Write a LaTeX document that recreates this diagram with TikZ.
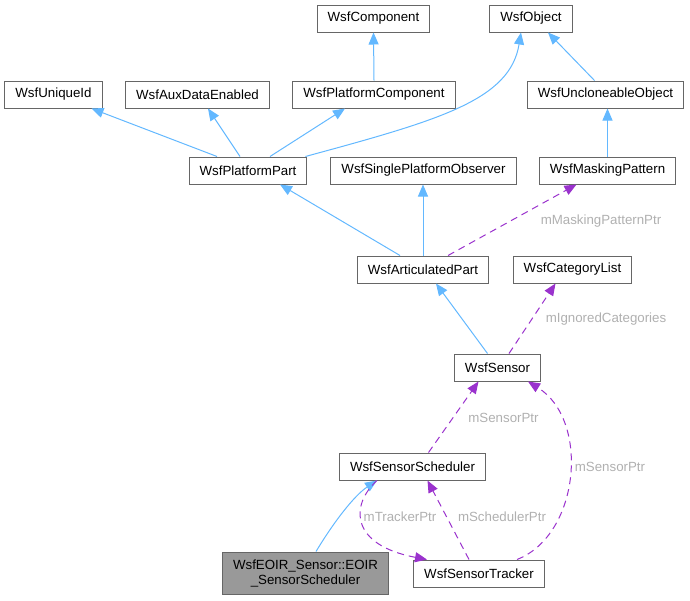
\documentclass[tikz,border=0pt]{standalone}
\usepackage{fontspec}
\setmainfont{Liberation Sans}
\usetikzlibrary{positioning,calc,arrows.meta}
\definecolor{edgeblue}{HTML}{63B8FF}
\definecolor{edgepurple}{HTML}{9A32CD}
\definecolor{boxline}{HTML}{666666}
\definecolor{boxgray}{HTML}{999999}
\definecolor{lblgray}{HTML}{B0B0B0}

\begin{document}
\begin{tikzpicture}[x=1pt, y=-1pt,
		cls/.style={draw=boxline, fill=white, line width=1pt, minimum height=27pt, inner xsep=10.5pt, font=\fontsize{13.3}{15}\selectfont},
		inh/.style={draw=edgeblue, line width=1pt, -{Triangle[length=12pt, width=10pt]}},
		assoc/.style={draw=edgepurple, line width=1pt, dash pattern=on 7pt off 5pt, -{Triangle[length=12pt, width=10pt]}},
		lbl/.style={text=lblgray, inner sep=0pt, font=\fontsize{13.3}{15}\selectfont}]
		\useasboundingbox (0,0) rectangle (690,600);
		% classes
		\node[cls] (Comp) at (373.5,18.5) {WsfComponent};
		\node[cls] (Obj) at (531,18.5) {WsfObject};
		\node[cls] (UId) at (53.5,94.5) {WsfUniqueId};
		\node[cls] (Aux) at (197.5,94.5) {WsfAuxDataEnabled};
		\node[cls] (PlatComp) at (374,94.5) {WsfPlatformComponent};
		\node[cls] (Uncl) at (605.5,94.5) {WsfUncloneableObject};
		\node[cls] (PlatPart) at (248,170.5) {WsfPlatformPart};
		\node[cls] (SPObs) at (423.5,170.5) {WsfSinglePlatformObserver};
		\node[cls] (Mask) at (607.5,170.5) {WsfMaskingPattern};
		\node[cls] (ArtPart) at (423,269.5) {WsfArticulatedPart};
		\node[cls] (CatList) at (572.5,269.5) {WsfCategoryList};
		\node[cls] (Sens) at (497.5,367.5) {WsfSensor};
		\node[cls] (Sched) at (412.5,466.5) {WsfSensorScheduler};
		\node[cls] (Track) at (479,573.5) {WsfSensorTracker};
		\node[cls, fill=boxgray, minimum height=42pt, align=center] (EoirSched) at (305.5,573) {WsfEOIR\_Sensor::EOIR\\\_SensorScheduler};
		% inheritance
		\draw[inh] (PlatComp.north) -- (Comp.south);
		\draw[inh] ([xshift=-2pt]PlatPart.north east) .. controls (440,120) and (510,100) .. ([xshift=-10pt]Obj.south);
		\draw[inh] ([xshift=-11pt]Uncl.north) -- ([xshift=17pt]Obj.south);
		\draw[inh] ([xshift=-31pt]PlatPart.north) -- ([xshift=38pt]UId.south);
		\draw[inh] ([xshift=-8pt]PlatPart.north) -- ([xshift=10.5pt]Aux.south);
		\draw[inh] ([xshift=22pt]PlatPart.north) -- ([xshift=-29pt]PlatComp.south);
		\draw[inh] (Mask.north) -- (Mask.north |- Uncl.south);
		\draw[inh] ([xshift=-23pt]ArtPart.north) -- ([xshift=32pt]PlatPart.south);
		\draw[inh] (ArtPart.north) -- (ArtPart.north |- SPObs.south);
		\draw[inh] ([xshift=-10pt]Sens.north) -- ([xshift=13pt]ArtPart.south);
		\draw[inh] ([xshift=10.5pt]EoirSched.north) .. controls (335,520) and (355,495) .. ([xshift=-35.5pt]Sched.south);
		% members
		\draw[assoc] ([xshift=25pt]ArtPart.north) -- ([xshift=-31pt]Mask.south);
		\draw[assoc] ([xshift=11.5pt]Sens.north) -- ([xshift=-17pt]CatList.south);
		\draw[assoc] ([xshift=16pt]Sched.north) -- ([xshift=-19pt]Sens.south);
		\draw[assoc] ([xshift=38pt]Track.north) .. controls (580,535) and (590,420) .. ([xshift=30.5pt]Sens.south);
		\draw[assoc] ([xshift=-10pt]Track.north) -- ([xshift=15pt]Sched.south);
		\draw[assoc] ([xshift=-35.5pt]Sched.south) .. controls (350,505) and (350,545) .. ([xshift=-52pt]Track.north);
		% labels
		\node[lbl] (LblMask) at (601,221) {mMaskingPatternPtr};
		\node[lbl] (LblCat) at (606,319) {mIgnoredCategories};
		\node[lbl] (LblSensA) at (503.5,418) {mSensorPtr};
		\node[lbl] (LblSensB) at (610,467) {mSensorPtr};
		\node[lbl] (LblTrack) at (400,517) {mTrackerPtr};
		\node[lbl] (LblSched) at (502,517) {mSchedulerPtr};
	\end{tikzpicture}
\end{document}
